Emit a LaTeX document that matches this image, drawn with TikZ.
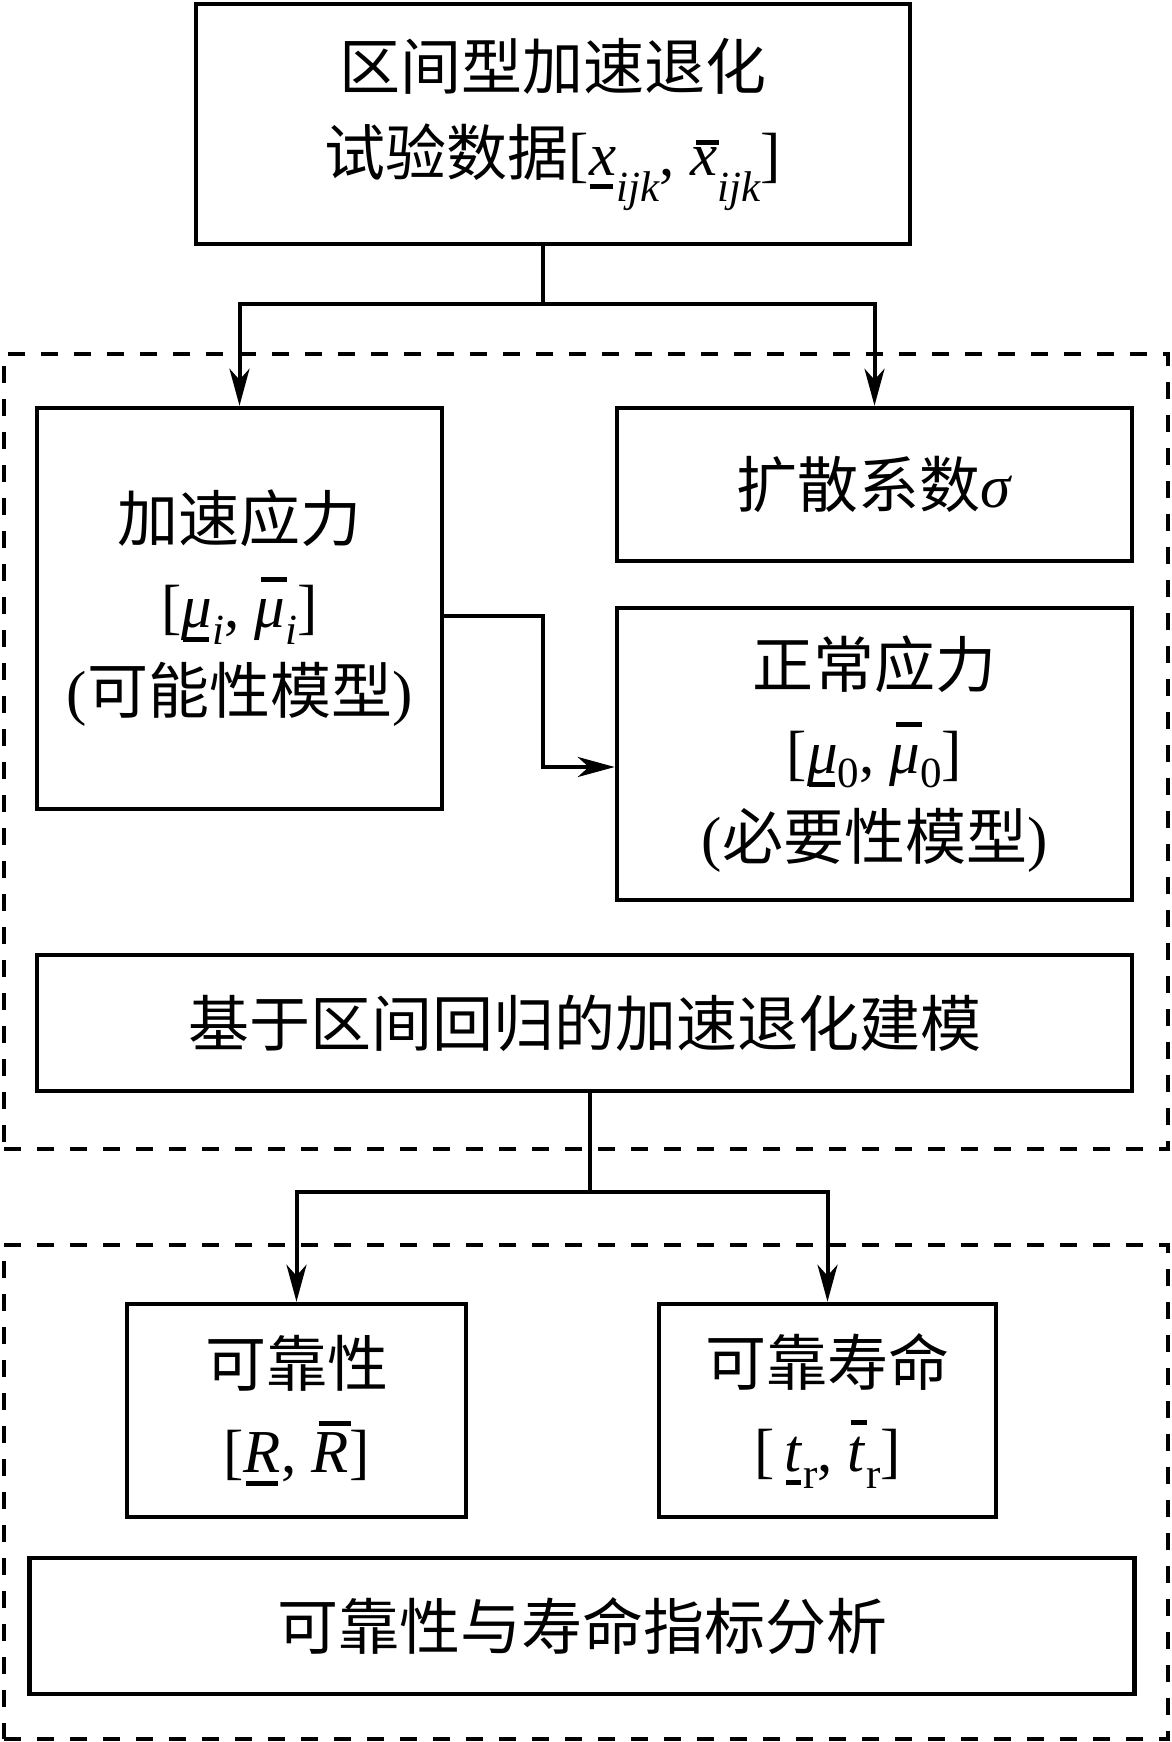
\documentclass[tikz,border=0pt]{standalone}
\usepackage{fontspec}
\setmainfont{Liberation Serif}
\newfontfamily\cjk{Noto Sans CJK SC}
\usetikzlibrary{arrows.meta}
\newcommand{\lobar}[1]{\leavevmode\setbox0=\hbox{#1}\rlap{\hspace{0.05\wd0}\raisebox{-14pt}{\rule{0.85\wd0}{5pt}}}\box0}
\newcommand{\upbar}[2][46pt]{\leavevmode\setbox0=\hbox{#2}\rlap{\hspace{0.2\wd0}\raisebox{#1}{\rule{0.85\wd0}{5pt}}}\box0}
\newcommand{\sbs}[2][-17pt]{\raisebox{#1}{\fontsize{43}{43}\selectfont #2}}
\begin{document}
\begin{tikzpicture}[x=1pt,y=-1pt,
  box/.style={draw, line width=4.5pt, inner sep=0pt, align=center, font=\fontsize{61}{86}\selectfont},
  frame/.style={draw, line width=4pt, dash pattern=on 17pt off 16pt, inner sep=0pt},
  conn/.style={line width=4pt},
  arr/.style={conn, -{Stealth[length=37pt,width=20pt,inset=11pt]}}]
\useasboundingbox (0,0) rectangle (1172,1742);
% dashed groups
\node[frame, minimum width=1164pt, minimum height=795pt] (g1) at (586,751.5) {};
\node[frame, minimum width=1164pt, minimum height=494pt] (g2) at (586,1492) {};
% boxes
\node[box, minimum width=714pt, minimum height=240pt] (top) at (553,124)
  {{\cjk 区间型加速退化}\\{\cjk 试验数据}[\lobar{\textit{x}}\sbs[-26pt]{\textit{ijk}}, \upbar[30pt]{\textit{x}}\sbs[-26pt]{\textit{ijk}}]};
\node[box, minimum width=405pt, minimum height=401pt] (acc) at (239.5,608.5)
  {{\cjk 加速应力}\\{[\lobar{\textit{μ}}\sbs{\textit{i}}, \upbar{\textit{μ}}\sbs{\textit{i}}]}\\({\cjk 可能性模型})};
\node[box, minimum width=515pt, minimum height=153pt] (diff) at (874.5,484.5)
  {{\cjk 扩散系数}\textit{σ}};
\node[box, minimum width=515pt, minimum height=292pt] (norm) at (874.5,754)
  {{\cjk 正常应力}\\{[\lobar{\textit{μ}}\sbs[-14pt]{0}, \upbar{\textit{μ}}\sbs[-14pt]{0}]}\\({\cjk 必要性模型})};
\node[box, minimum width=1095pt, minimum height=136pt] (model) at (584.5,1023)
  {{\cjk 基于区间回归的加速退化建模}};
\node[box, minimum width=339pt, minimum height=213pt] (rel) at (296.5,1410.5)
  {{\cjk 可靠性}\\{[\lobar{\textit{R}}, \upbar{\textit{R}}]}};
\node[box, minimum width=337pt, minimum height=213pt] (life) at (827.5,1410.5)
  {{\cjk 可靠寿命}\\{[\,\lobar{\textit{t}}\sbs{r}, \upbar{\textit{t}}\sbs{r}]}};
\node[box, minimum width=1105pt, minimum height=136pt] (anal) at (582,1626)
  {{\cjk 可靠性与寿命指标分析}};
% connectors
\coordinate (j1) at (543,303.5);
\draw[conn] (top.south -| j1) -- (j1);
\draw[arr] (j1) -| (acc.north);
\draw[arr] (j1) -| (diff.north);
\coordinate (k1) at (543,616);
\coordinate (k2) at (543,767);
\draw[arr] (acc.east |- k1) -- (k1) -- (k2) -- (k2 -| norm.west);
\coordinate (j2) at (590,1191.5);
\draw[conn] (model.south -| j2) -- (j2);
\draw[arr] (j2) -| (rel.north);
\draw[arr] (j2) -| (life.north);
\end{tikzpicture}
\end{document}
